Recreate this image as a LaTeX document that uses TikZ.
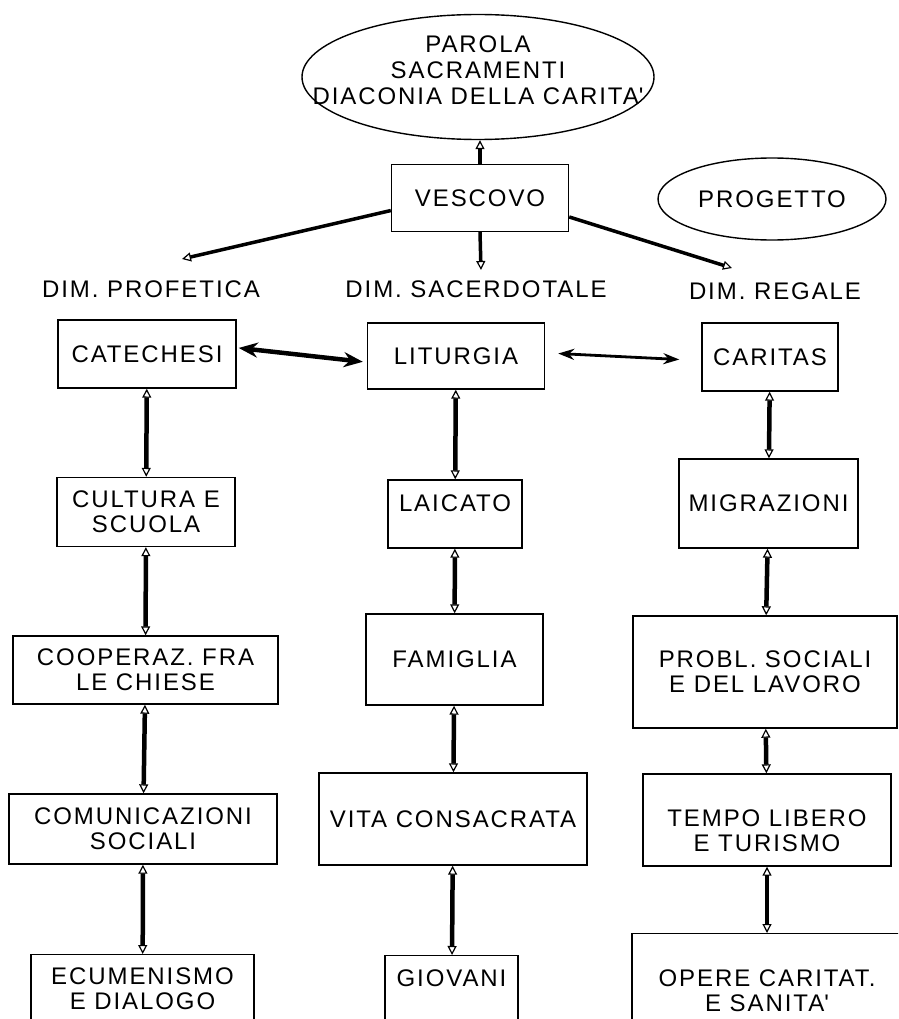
\documentclass[tikz,border=0pt]{standalone}
\usepackage{fontspec}
\setmainfont{Liberation Sans}[LetterSpace=8]
\usetikzlibrary{shapes.geometric,arrows.meta}

\begin{document}
\begin{tikzpicture}[x=1pt, y=-1pt,
      every node/.style={font=\fontsize{24}{25}\selectfont},
      box/.style={draw, line width=1.4pt, align=center, inner sep=2pt},
      oval/.style={draw, ellipse, line width=1.4pt, inner sep=0pt},
      cutbox/.style={box, anchor=north, text depth=100pt},
      link/.style={line width=4.5pt,
        {Triangle[open,length=9pt,width=9pt,line width=1.2pt]}-{Triangle[open,length=9pt,width=9pt,line width=1.2pt]}},
      dim/.style={line width=3.5pt, -{Triangle[open,length=9pt,width=9pt,line width=1.2pt]}},
      bold/.style={line width=4.5pt, {Stealth[length=19pt,width=15pt]}-{Stealth[length=19pt,width=15pt]}},
      thin/.style={line width=2.8pt, {Stealth[length=16pt,width=11pt]}-{Stealth[length=16pt,width=11pt]}}
  ]
    \useasboundingbox (0,0) rectangle (898,1019);
    \clip (0,0) rectangle (898,1019);

    % top
    \node[oval, minimum width=352, minimum height=125] (parola) at (478,77) {};
    \node[align=center, font=\fontsize{24}{26}\selectfont] (parolatext) at (478,70)
      {PAROLA\\SACRAMENTI\\DIACONIA DELLA CARITA\textquotesingle};
    \node[box, minimum width=177, minimum height=67] (vescovo) at (480,198) {VESCOVO};
    \node[oval, minimum width=228, minimum height=82] (progetto) at (772,199) {PROGETTO};

    \node (profetica) at (151,289) {DIM. PROFETICA};
    \node (sacerdotale) at (476,289) {DIM. SACERDOTALE};
    \node (regale) at (775,291) {DIM. REGALE};
    \coordinate (pro-tip) at (182,259);
    \coordinate (sac-tip) at (481,270);
    \coordinate (reg-tip) at (732,268);

    % dim. profetica
    \node[box, minimum width=178, minimum height=68] (catechesi) at (147,354) {CATECHESI};
    \node[box, minimum width=178, minimum height=69] (cultura) at (146,512) {CULTURA E\\SCUOLA};
    \node[box, minimum width=265, minimum height=68] (cooperaz) at (145.5,670) {COOPERAZ. FRA\\LE CHIESE};
    \node[box, minimum width=268, minimum height=70] (comunic) at (143,829) {COMUNICAZIONI\\SOCIALI};
    \node[cutbox, minimum width=223, inner ysep=13.4pt] (ecumen) at (142.5,954) {ECUMENISMO\\E DIALOGO};

    % dim. sacerdotale
    \node[box, minimum width=177, minimum height=66] (liturgia) at (456,356) {LITURGIA};
    \node[box, minimum width=134, minimum height=68, text depth=22pt] (laicato) at (455,514) {LAICATO};
    \node[box, minimum width=177, minimum height=91] (famiglia) at (454.5,659.5) {FAMIGLIA};
    \node[box, minimum width=268, minimum height=92] (vita) at (453,819) {VITA CONSACRATA};
    \node[cutbox, minimum width=133, inner ysep=14.4pt] (giovani) at (451.5,955) {GIOVANI};

    % dim. regale
    \node[box, minimum width=136, minimum height=68] (caritas) at (770,357) {CARITAS};
    \node[box, minimum width=179, minimum height=89] (migraz) at (768.5,503.5) {MIGRAZIONI};
    \node[box, minimum width=264, minimum height=112] (probl) at (765,672) {PROBL. SOCIALI\\E DEL LAVORO};
    \node[box, minimum width=248, minimum height=92, text height=62pt, text depth=0pt] (tempo) at (767,820) {TEMPO LIBERO\\E TURISMO};
    \node[cutbox, minimum width=270, inner ysep=36.4pt] (opere) at (767,933) {OPERE CARITAT.\\E SANITA\textquotesingle};

    \draw[dim] (vescovo.north) -- (vescovo.north |- parola.south);
    \draw[dim] (vescovo.188) -- (pro-tip);
    \draw[dim] (vescovo.south) -- (sac-tip);
    \draw[dim] (vescovo.-12) -- (reg-tip);

    \draw[bold, shorten <=2pt, shorten >=4pt] (catechesi.4) -- (liturgia.184);
    \draw[thin, shorten <=13pt, shorten >=22pt] (liturgia.2) -- (caritas.183);

    \path[link]
    (catechesi) edge (cultura)
    (cultura) edge (cooperaz)
    (cooperaz) edge (comunic)
    (comunic) edge (ecumen)
    (liturgia) edge (laicato)
    (laicato) edge (famiglia)
    (famiglia) edge (vita)
    (vita) edge (giovani)
    (caritas) edge (migraz)
    (migraz) edge (probl)
    (probl) edge (tempo)
    (tempo) edge (opere)
    ;
\end{tikzpicture}
\end{document}
